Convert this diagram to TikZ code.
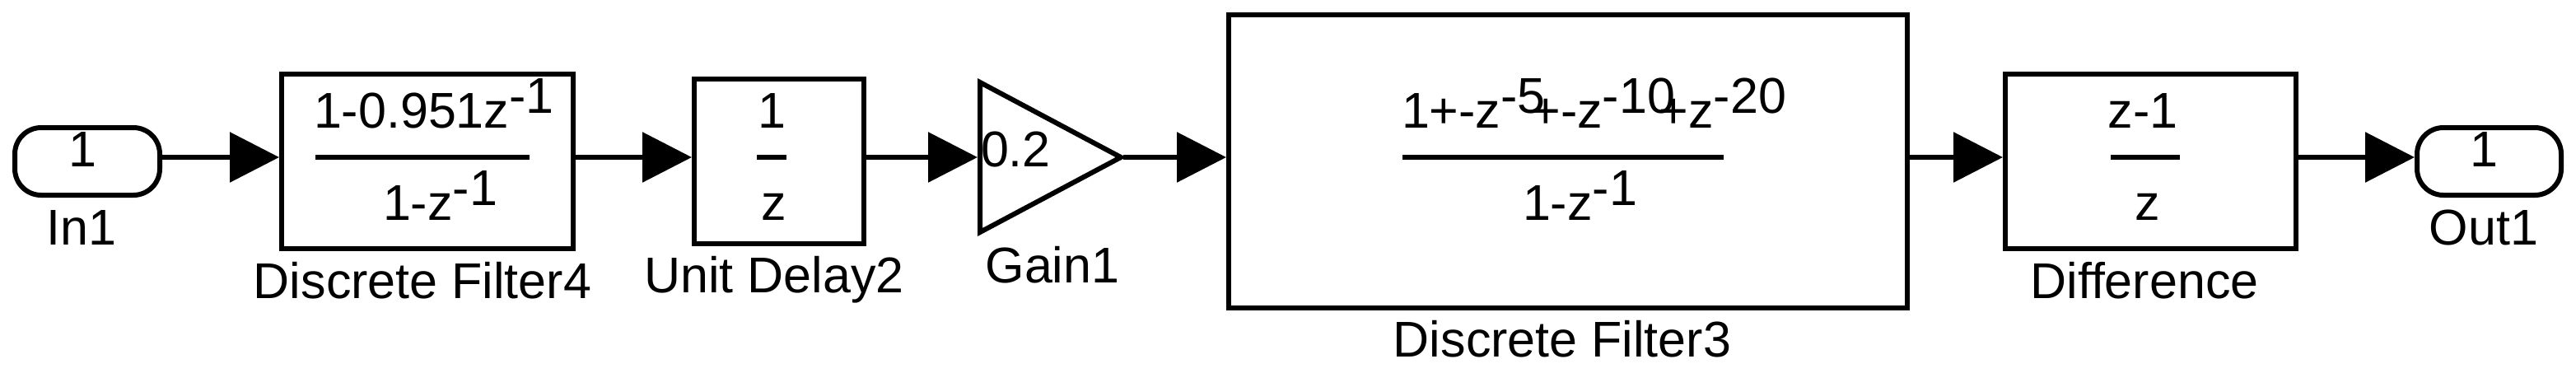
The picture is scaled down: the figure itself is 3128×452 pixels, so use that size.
\documentclass[tikz,border=0pt]{standalone}
\usepackage{fontspec}
\setmainfont{Liberation Sans}
\usetikzlibrary{arrows.meta}
\newcommand\fsz{\fontsize{15.25pt}{18pt}\selectfont}
\newcommand\sups[1]{\raisebox{4.5pt}{#1}}
\newcommand\supo[2]{\rlap{\raisebox{4.5pt}{#1}}\kern#2}
\begin{document}
\begin{tikzpicture}[x=0.25pt,y=-0.25pt,
  blk/.style={draw, line width=1.5pt, line join=miter, inner sep=0pt, fill=none},
  portbox/.style={blk, rounded corners=8pt},
  txt/.style={inner sep=0pt, outer sep=0pt, font=\fsz},
  conn/.style={line width=1.5pt, -{Triangle[length=15pt,width=15pt]}},
  fbar/.style={line width=1.6pt}]
\useasboundingbox (0,0) rectangle (3128,452);
\coordinate (sig) at (0,191);
% blocks
\node[portbox, minimum width=44pt, minimum height=20.5pt] (in1) at (106,196) {};
\node[blk, minimum width=88.5pt, minimum height=53pt] (df4) at (519,196) {};
\node[blk, minimum width=51.5pt, minimum height=50pt] (ud2) at (946,196) {};
\draw[blk] (1190,100) -- (1361,191) -- (1190,282) -- cycle;
\coordinate (gin) at (1187,191);
\coordinate (gout) at (1364,191);
\node[blk, minimum width=206pt, minimum height=89pt] (df3) at (1904,196) {};
\node[blk, minimum width=88.25pt, minimum height=53pt] (diff) at (2611.5,196) {};
\node[portbox, minimum width=43.75pt, minimum height=20.5pt] (out1) at (3022.5,196) {};
% block contents
\node[txt, anchor=base] (in1n) at (100,202) {1};
\node[txt, anchor=base] (out1n) at (3016,202) {1};
\node[txt, anchor=base west] (df4num) at (381,155) {1-0.951z\sups{-1}};
\draw[fbar] (383,191) -- (643,191);
\node[txt, anchor=base west] (df4den) at (465,267) {1-z\sups{-1}};
\node[txt, anchor=base] (ud2num) at (937,155) {1};
\draw[fbar] (919,191) -- (955,191);
\node[txt, anchor=base] (ud2den) at (940,267) {z};
\node[txt, anchor=base west] (gainv) at (1191,202) {0.2};
\node[txt, anchor=base west] (df3num) at (1702,155) {1+-z\supo{-5}{9.25pt}+-z\supo{-10}{17.25pt}+z\sups{-20}};
\draw[fbar] (1703,191) -- (2093,191);
\node[txt, anchor=base west] (df3den) at (1849,267) {1-z\sups{-1}};
\node[txt, anchor=base] (diffnum) at (2602,155) {z-1};
\draw[fbar] (2563,191) -- (2647,191);
\node[txt, anchor=base] (diffden) at (2608,267) {z};
% labels
\node[txt, anchor=base] (lin1) at (99,297) {In1};
\node[txt, anchor=base] (ldf4) at (513,362) {Discrete Filter4};
\node[txt, anchor=base] (lud2) at (940,355) {Unit Delay2};
\node[txt, anchor=base] (lgain) at (1278,343) {Gain1};
\node[txt, anchor=base] (ldf3) at (1897,433) {Discrete Filter3};
\node[txt, anchor=base] (ldiff) at (2604,362) {Difference};
\node[txt, anchor=base] (lout1) at (3016,297) {Out1};
% connectors
\draw[conn] (in1.east |- sig) -- (df4.west |- sig);
\draw[conn] (df4.east |- sig) -- (ud2.west |- sig);
\draw[conn] (ud2.east |- sig) -- (gin);
\draw[conn] (gout) -- (df3.west |- sig);
\draw[conn] (df3.east |- sig) -- (diff.west |- sig);
\draw[conn] (diff.east |- sig) -- (out1.west |- sig);
\end{tikzpicture}
\end{document}
